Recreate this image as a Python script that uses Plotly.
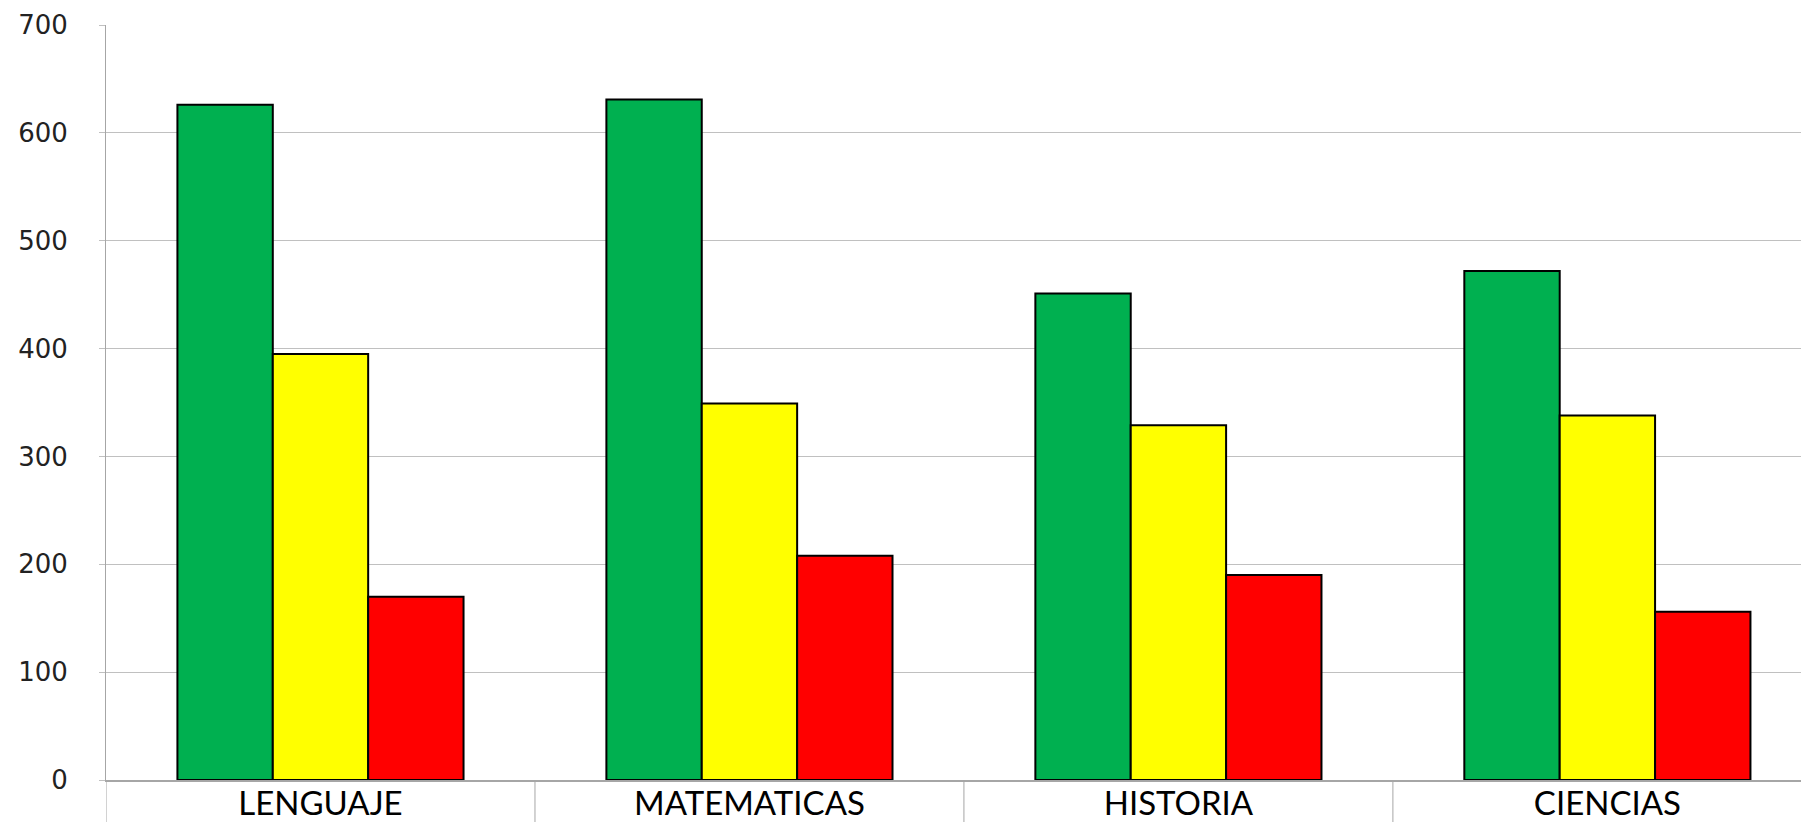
import plotly.graph_objects as go

categories = ["LENGUAJE", "MATEMATICAS", "HISTORIA", "CIENCIAS"]
green_vals = [626, 631, 451, 472]
yellow_vals = [395, 349, 329, 338]
red_vals = [170, 208, 190, 156]
y_ticks = [0, 100, 200, 300, 400, 500, 600, 700]

fig = go.Figure()
for vals, col in [(green_vals, "#00B050"), (yellow_vals, "#FFFF00"), (red_vals, "#FF0000")]:
    fig.add_trace(go.Bar(x=categories, y=vals, marker=dict(color=col, line=dict(color="black", width=2)),
                         showlegend=False))

# divider lines between categories and left axis extension below plot
for xb in [-0.5, 0.5, 1.5, 2.5]:
    fig.add_shape(type="line", xref="x", yref="paper", x0=xb, x1=xb, y0=0, y1=-0.08,
                  line=dict(color="#a6a6a6", width=1))

fig.update_layout(
    width=1801, height=814,
    margin=dict(l=98, r=0, t=17, b=42),
    paper_bgcolor="white", plot_bgcolor="white",
    barmode="group", bargap=0.333, bargroupgap=0,
    xaxis=dict(range=[-0.5, 3.47], showgrid=False, showline=True, linecolor="#a6a6a6", linewidth=2,
               ticks="", automargin=False,
               tickfont=dict(family="Lato", size=33, color="black"), ticklabelstandoff=-7),
    yaxis=dict(range=[0, 700], tickvals=y_ticks, showgrid=True, gridcolor="#c0c0c0", gridwidth=1,
               showline=True, linecolor="#a6a6a6", linewidth=1, ticks="outside", ticklen=6,
               tickcolor="#c0c0c0", zeroline=False, automargin=False,
               tickfont=dict(family="DejaVu Sans", size=26, color="#222"), ticklabelstandoff=26),
)
fig.write_html("out.html")
